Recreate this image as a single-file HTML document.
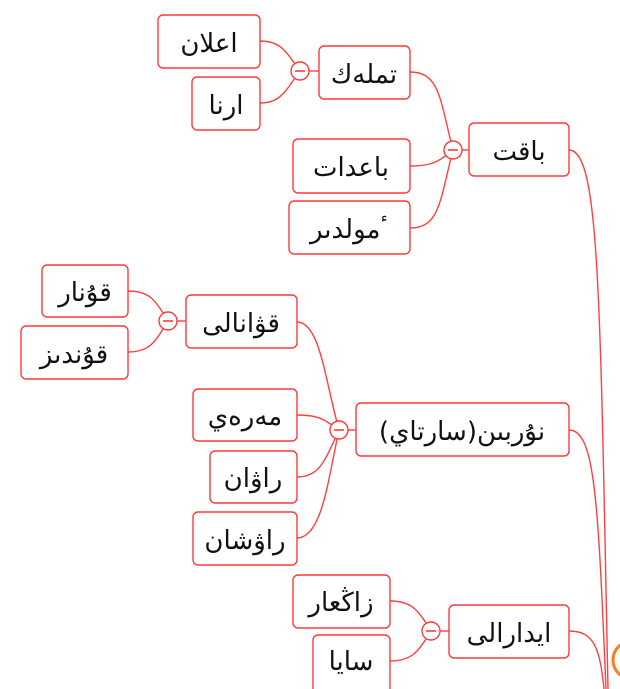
<!DOCTYPE html>
<html><head><meta charset="utf-8">
<style>
html,body{margin:0;padding:0;background:#fff;}
svg{display:block;}
text{font-family:"DejaVu Sans","Liberation Sans",sans-serif;font-size:26px;fill:#111;direction:rtl;}
</style></head><body>
<svg width="620" height="689" viewBox="0 0 620 689" xmlns="http://www.w3.org/2000/svg">
<g fill="none" stroke="#ff4040" stroke-width="1.4">
<path d="M569,150 C600,150 600,300 608,689"/>
<path d="M569,430 C595,430 598,500 606,689"/>
<path d="M569,631 C595,631 600,650 604,689"/>
<path d="M462,150 L469,150"/>
<path d="M410,72 C440,72 440,100 453,150"/>
<path d="M410,166 C435,166 440,160 453,150"/>
<path d="M410,228 C440,228 440,200 453,150"/>
<path d="M309,71 L319,71"/>
<path d="M260,41 C280,41 285,50 300,71"/>
<path d="M260,103 C280,103 285,92 300,71"/>
<path d="M348,430 L356,430"/>
<path d="M297,322 C320,322 325,380 339,430"/>
<path d="M297,415 C320,415 325,420 339,430"/>
<path d="M297,477 C320,477 325,460 339,430"/>
<path d="M297,538 C322,538 328,480 339,430"/>
<path d="M177,321 L186,321"/>
<path d="M128,291 C150,291 155,300 168,321"/>
<path d="M128,352 C150,352 155,342 168,321"/>
<path d="M440,631 L449,631"/>
<path d="M390,601 C412,601 418,610 431,631"/>
<path d="M390,661 C412,661 418,652 431,631"/>
</g>
<g fill="#fff" stroke="#ff3a3a" stroke-width="1.4">
<rect x="158" y="15" width="102" height="53" rx="5"/>
<rect x="192" y="77" width="68" height="53" rx="5"/>
<rect x="319" y="46" width="91" height="53" rx="5"/>
<rect x="469" y="123" width="100" height="53" rx="5"/>
<rect x="293" y="139" width="117" height="54" rx="5"/>
<rect x="289" y="201" width="121" height="53" rx="5"/>
<rect x="42" y="265" width="86" height="52" rx="5"/>
<rect x="21" y="326" width="107" height="53" rx="5"/>
<rect x="186" y="295" width="111" height="53" rx="5"/>
<rect x="193" y="389" width="104" height="52" rx="5"/>
<rect x="356" y="403" width="213" height="53" rx="5"/>
<rect x="210" y="451" width="87" height="52" rx="5"/>
<rect x="193" y="512" width="104" height="53" rx="5"/>
<rect x="293" y="575" width="97" height="53" rx="5"/>
<rect x="449" y="605" width="120" height="53" rx="5"/>
<rect x="313" y="635" width="77" height="60" rx="5"/>
<circle cx="300" cy="71" r="9"/>
<circle cx="453" cy="150" r="9"/>
<circle cx="168" cy="321" r="9"/>
<circle cx="339" cy="430" r="9"/>
<circle cx="431" cy="631" r="9"/>
</g>
<g stroke="#ff3a3a" stroke-width="1.6">
<line x1="295" y1="71" x2="305" y2="71"/>
<line x1="448" y1="150" x2="458" y2="150"/>
<line x1="163" y1="321" x2="173" y2="321"/>
<line x1="334" y1="430" x2="344" y2="430"/>
<line x1="426" y1="631" x2="436" y2="631"/>
</g>
<circle cx="632" cy="660" r="19" fill="#fff" stroke="#f08020" stroke-width="3"/>
<g text-anchor="middle">
<text x="209" y="52">اعلان</text>
<text x="226" y="114">ارنا</text>
<text x="364" y="83">تملەك</text>
<text x="519" y="160">باقت</text>
<text x="351" y="176">باعدات</text>
<text x="349" y="238">ٴمولدىر</text>
<text x="85" y="301">قۇنار</text>
<text x="74" y="363">قۇندىز</text>
<text x="241" y="332">قۋانالى</text>
<text x="245" y="425">مەرەي</text>
<text x="462" y="440">نۇربىن(سارتاي)</text>
<text x="253" y="487">راۋان</text>
<text x="245" y="549">راۋشان</text>
<text x="341" y="611">زاڭعار</text>
<text x="509" y="642">ايدارالى</text>
<text x="351" y="670">سايا</text>
</g>
</svg>
</body></html>
